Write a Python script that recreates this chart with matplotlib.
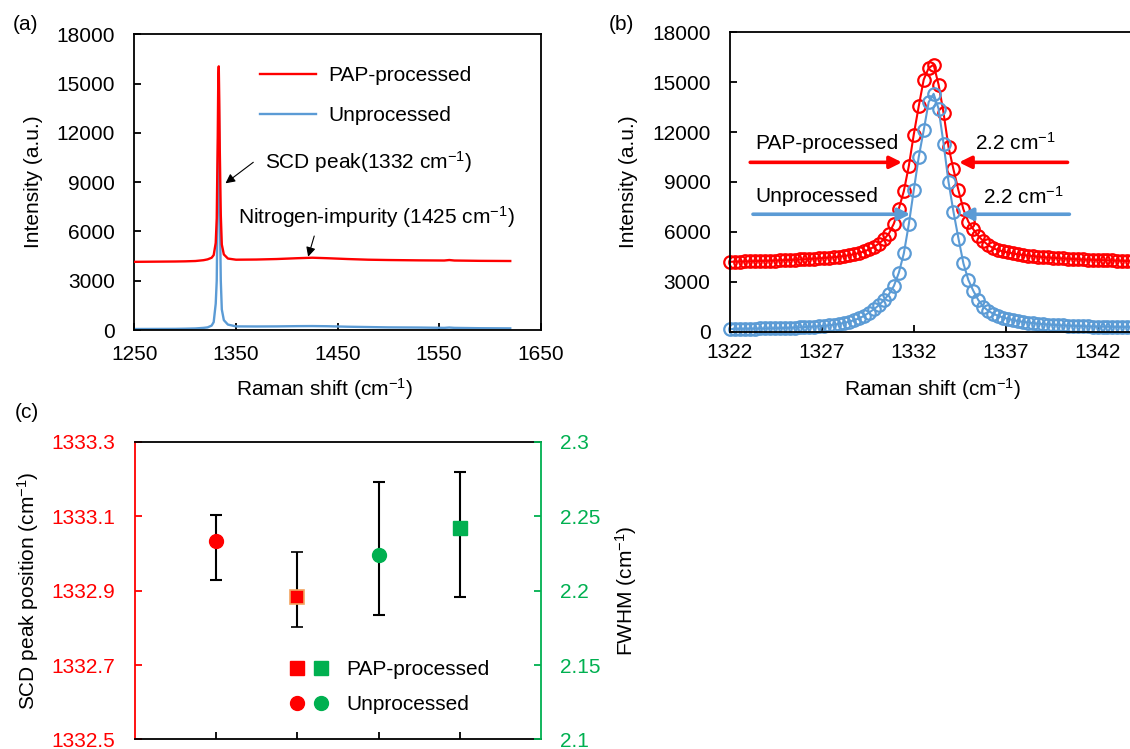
import matplotlib.pyplot as plt
from matplotlib.lines import Line2D
from matplotlib.legend_handler import HandlerTuple

plt.rcParams['font.family'] = ['Liberation Sans', 'DejaVu Sans']
plt.rcParams['mathtext.default'] = 'regular'
plt.rcParams['font.size'] = 15
plt.rcParams['axes.linewidth'] = 1.3

RED = '#FF0000'
BLUE = '#5B9BD5'
GREEN = '#00B050'

# (a) full spectra
shift_a = [1250, 1270, 1290, 1300, 1310, 1318, 1322, 1326, 1328, 1330, 1331, 1332,
           1332.5, 1333, 1333.5, 1334, 1335, 1336, 1338, 1342, 1350, 1370, 1390, 1410,
           1425, 1440, 1460, 1480, 1500, 1530, 1555, 1560, 1565, 1590, 1620]
pap_a = [4150, 4160, 4170, 4180, 4200, 4250, 4300, 4400, 4560, 5300, 6800, 11800,
         15200, 16050, 14000, 11000, 7000, 5200, 4600, 4350, 4280, 4290, 4320, 4370,
         4400, 4370, 4320, 4280, 4260, 4240, 4230, 4260, 4230, 4210, 4200]
unp_a = [60, 65, 70, 80, 95, 130, 160, 270, 480, 1600, 3000, 8500,
         12100, 14300, 11300, 7500, 3000, 1250, 600, 330, 220, 215, 220, 235,
         240, 230, 200, 180, 160, 150, 130, 150, 130, 110, 100]

# (b) zoom on the diamond peak
shift_b = [1322.00, 1322.27, 1322.54, 1322.81, 1323.08, 1323.35, 1323.62, 1323.89, 1324.16,
           1324.43, 1324.70, 1324.97, 1325.24, 1325.51, 1325.78, 1326.05, 1326.32, 1326.59,
           1326.86, 1327.13, 1327.40, 1327.67, 1327.94, 1328.21, 1328.48, 1328.75, 1329.02,
           1329.29, 1329.56, 1329.83, 1330.10, 1330.37, 1330.64, 1330.91, 1331.18, 1331.45,
           1331.72, 1331.99, 1332.26, 1332.53, 1332.80, 1333.07, 1333.34, 1333.61, 1333.88,
           1334.15, 1334.42, 1334.69, 1334.96, 1335.23, 1335.50, 1335.77, 1336.04, 1336.31,
           1336.58, 1336.85, 1337.12, 1337.39, 1337.66, 1337.93, 1338.20, 1338.47, 1338.74,
           1339.01, 1339.28, 1339.55, 1339.82, 1340.09, 1340.36, 1340.63, 1340.90, 1341.17,
           1341.44, 1341.71, 1341.98, 1342.25, 1342.52, 1342.79, 1343.06, 1343.33, 1343.60,
           1343.87, 1344.14, 1344.41, 1344.68, 1344.95]
pap_b = [4200, 4210, 4215, 4225, 4230, 4240, 4250, 4255, 4265,
         4275, 4285, 4300, 4310, 4325, 4340, 4355, 4370, 4390,
         4410, 4430, 4455, 4480, 4510, 4550, 4600, 4660, 4730,
         4820, 4940, 5100, 5300, 5550, 5900, 6500, 7400, 8450,
         9950, 11850, 13550, 15150, 15850, 16050, 14850, 13150, 11100,
         9750, 8500, 7350, 6600, 6150, 5750, 5450, 5200, 5020,
         4900, 4820, 4760, 4700, 4650, 4610, 4570, 4540, 4510,
         4480, 4460, 4440, 4420, 4400, 4385, 4370, 4355, 4340,
         4330, 4320, 4310, 4300, 4290, 4280, 4270, 4260, 4250,
         4245, 4240, 4235, 4230, 4225]
unp_b = [160, 165, 170, 175, 180, 185, 190, 195, 200,
         205, 215, 225, 235, 245, 260, 275, 290, 305,
         325, 350, 380, 420, 470, 530, 600, 690, 800,
         950, 1150, 1350, 1600, 1900, 2250, 2750, 3550, 4700,
         6450, 8500, 10500, 12100, 13800, 14300, 13400, 11300, 9000,
         7200, 5600, 4100, 3100, 2450, 1900, 1500, 1250, 1080,
         950, 850, 770, 700, 640, 590, 550, 510, 480,
         450, 430, 410, 390, 375, 360, 350, 340, 330,
         320, 310, 305, 300, 295, 290, 285, 280, 275,
         270, 268, 265, 262, 260]

# (c) peak position (left axis) and FWHM (right axis)
peak_x = [1, 2]            # Unprocessed, PAP-processed
peak_val = [1333.034, 1332.884]
peak_lo = [1332.930, 1332.803]
peak_hi = [1333.105, 1333.005]
fwhm_x = [3, 4]            # Unprocessed, PAP-processed
fwhm_val = [2.224, 2.242]
fwhm_lo = [2.184, 2.196]
fwhm_hi = [2.273, 2.280]

fig = plt.figure(figsize=(11.3, 7.49), dpi=100)
ax_a = fig.add_axes([0.119, 0.5594, 0.3595, 0.3948])
ax_b = fig.add_axes([0.646, 0.5572, 0.407, 0.3997])
ax_c = fig.add_axes([0.1195, 0.0127, 0.3593, 0.3972])

# ---- (a)
ax_a.plot(shift_a, pap_a, color=RED, lw=1.7, label='PAP-processed', zorder=3)
ax_a.plot(shift_a, unp_a, color=BLUE, lw=1.7, label='Unprocessed', zorder=2)
ax_a.set_xlim(1250, 1650)
ax_a.set_ylim(0, 18000)
ax_a.set_xticks(range(1250, 1651, 100))
ax_a.set_yticks(range(0, 18001, 3000))
ax_a.tick_params(direction='in', length=5, width=1.3)
ax_a.tick_params(axis='y', pad=14)
ax_a.tick_params(axis='x', pad=11)
ax_a.set_xlabel('Raman shift (cm$^{-1}$)')
ax_a.xaxis.set_label_coords(0.468, -0.156)
ax_a.set_ylabel('Intensity (a.u.)', labelpad=10)
ax_a.legend(loc='upper left', bbox_to_anchor=(0.309, 0.892), frameon=False,
            borderpad=0, borderaxespad=0, handlelength=2.7, handletextpad=0.6,
            labelspacing=1.0)
ax_a.annotate('', xy=(1339.6, 8930), xytext=(1367, 10210),
              arrowprops=dict(arrowstyle='-|>', color='k', lw=0.8,
                              mutation_scale=14, shrinkA=0, shrinkB=0))
ax_a.text(1379, 10210, 'SCD peak(1332 cm$^{-1}$)', ha='left', va='center')
ax_a.annotate('', xy=(1421, 4460), xytext=(1427, 5720),
              arrowprops=dict(arrowstyle='-|>', color='k', lw=0.8,
                              mutation_scale=14, shrinkA=0, shrinkB=0))
ax_a.text(1352, 6900, 'Nitrogen-impurity (1425 cm$^{-1}$)', ha='left', va='center')

# ---- (b)
ax_b.plot(shift_b, pap_b, color=RED, lw=1.5, marker='o', ms=9, mfc='none',
          mew=1.6, clip_on=False)
ax_b.plot(shift_b, unp_b, color=BLUE, lw=1.5, marker='o', ms=9, mfc='none',
          mew=1.6, clip_on=False)
ax_b.set_xlim(1322, 1347)
ax_b.set_ylim(0, 18000)
ax_b.set_xticks(range(1322, 1343, 5))
ax_b.set_yticks(range(0, 18001, 3000))
ax_b.tick_params(direction='in', length=5, width=1.3)
ax_b.tick_params(axis='y', pad=14)
ax_b.tick_params(axis='x', pad=8)
ax_b.set_xlabel('Raman shift (cm$^{-1}$)')
ax_b.xaxis.set_label_coords(0.441, -0.148)
ax_b.set_ylabel('Intensity (a.u.)', labelpad=10)

arrow_kw = dict(arrowstyle='-|>', lw=2.6, mutation_scale=18, shrinkA=0, shrinkB=0)
ax_b.annotate('', xy=(1331.35, 10180), xytext=(1323.1, 10180),
              arrowprops=dict(color=RED, **arrow_kw))
ax_b.annotate('', xy=(1334.45, 10180), xytext=(1340.35, 10180),
              arrowprops=dict(color=RED, **arrow_kw))
ax_b.annotate('', xy=(1331.8, 7060), xytext=(1323.25, 7060),
              arrowprops=dict(color=BLUE, **arrow_kw))
ax_b.annotate('', xy=(1334.54, 7060), xytext=(1340.45, 7060),
              arrowprops=dict(color=BLUE, **arrow_kw))
ax_b.text(1323.39, 11330, 'PAP-processed', ha='left', va='center')
ax_b.text(1335.3, 11330, '2.2 cm$^{-1}$', ha='left', va='center')
ax_b.text(1323.39, 8120, 'Unprocessed', ha='left', va='center')
ax_b.text(1335.75, 8120, '2.2 cm$^{-1}$', ha='left', va='center')

# ---- (c)
ax_c2 = ax_c.twinx()
err_kw = dict(ecolor='k', elinewidth=1.5, capsize=4, capthick=1.5, ls='none')
ax_c.errorbar(peak_x[0], peak_val[0],
              yerr=[[peak_val[0] - peak_lo[0]], [peak_hi[0] - peak_val[0]]],
              marker='o', ms=10, mfc=RED, mec=RED, **err_kw)
ax_c.errorbar(peak_x[1], peak_val[1],
              yerr=[[peak_val[1] - peak_lo[1]], [peak_hi[1] - peak_val[1]]],
              marker='s', ms=9.5, mfc=RED, mec='#F4A460', mew=1.2, **err_kw)
ax_c2.errorbar(fwhm_x[0], fwhm_val[0],
               yerr=[[fwhm_val[0] - fwhm_lo[0]], [fwhm_hi[0] - fwhm_val[0]]],
               marker='o', ms=10, mfc=GREEN, mec=GREEN, **err_kw)
ax_c2.errorbar(fwhm_x[1], fwhm_val[1],
               yerr=[[fwhm_val[1] - fwhm_lo[1]], [fwhm_hi[1] - fwhm_val[1]]],
               marker='s', ms=9.5, mfc=GREEN, mec=GREEN, **err_kw)

ax_c.set_xlim(0, 5)
ax_c.set_xticks([1, 2, 3, 4])
ax_c.tick_params(axis='x', direction='in', length=5, width=1.3, labelbottom=False)
ax_c.set_ylim(1332.5, 1333.3)
ax_c.set_yticks([1332.5, 1332.7, 1332.9, 1333.1, 1333.3])
ax_c.set_yticklabels(['1332.5', '1332.7', '1332.9', '1333.1', '1333.3'])
ax_c.tick_params(axis='y', colors=RED, direction='in', length=5, width=1.3, pad=14)
ax_c.set_ylabel('SCD peak position (cm$^{-1}$)', color='k', labelpad=8)
ax_c2.set_ylim(2.1, 2.3)
ax_c2.set_yticks([2.1, 2.15, 2.2, 2.25, 2.3])
ax_c2.set_yticklabels(['2.1', '2.15', '2.2', '2.25', '2.3'])
ax_c2.tick_params(axis='y', colors=GREEN, direction='in', length=5, width=1.3, pad=14)
ax_c2.set_ylabel('FWHM (cm$^{-1}$)', rotation=90, labelpad=9)

ax_c.spines['left'].set_color(RED)
ax_c.spines['right'].set_visible(False)
ax_c2.spines['right'].set_color(GREEN)
ax_c2.spines['left'].set_visible(False)
ax_c2.spines['top'].set_visible(False)
ax_c2.spines['bottom'].set_visible(False)

h_rs = Line2D([], [], ls='none', marker='s', ms=10, color=RED)
h_gs = Line2D([], [], ls='none', marker='s', ms=10, color=GREEN)
h_rc = Line2D([], [], ls='none', marker='o', ms=10, color=RED)
h_gc = Line2D([], [], ls='none', marker='o', ms=10, color=GREEN)
ax_c2.legend([(h_rs, h_gs), (h_rc, h_gc)], ['PAP-processed', 'Unprocessed'],
             handler_map={tuple: HandlerTuple(ndivide=None, pad=0.5)},
             loc='upper left', bbox_to_anchor=(0.382, 0.266), frameon=False,
             borderpad=0, borderaxespad=0, handlelength=1.8, handletextpad=0.9,
             labelspacing=0.75)

fig.text(25.5 / 1130, 1 - 25 / 749, '(a)', ha='center', va='center')
fig.text(621 / 1130, 1 - 24 / 749, '(b)', ha='center', va='center')
fig.text(26.5 / 1130, 1 - 412 / 749, '(c)', ha='center', va='center')

fig.savefig('out.png', dpi=100)
